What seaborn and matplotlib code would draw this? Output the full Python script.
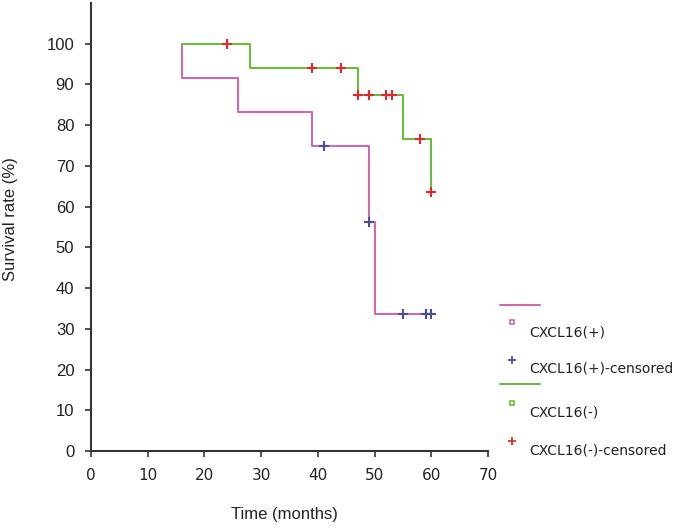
import matplotlib
matplotlib.use("Agg")
import matplotlib.pyplot as plt
from matplotlib.lines import Line2D
import seaborn as sns

# Kaplan-Meier curves
pos_t = [16, 16, 26, 39, 49, 50, 60]
pos_s = [100, 91.7, 83.3, 75, 56.25, 33.75, 33.75]
pos_cens_t = [41, 49, 55, 59, 60]
pos_cens_s = [75, 56.25, 33.75, 33.75, 33.75]

neg_t = [16, 28, 47, 55, 60]
neg_s = [100, 94.1, 87.4, 76.5, 63.7]
neg_cens_t = [24, 39, 44, 47, 49, 52, 53, 58, 60]
neg_cens_s = [100, 94.1, 94.1, 87.4, 87.4, 87.4, 87.4, 76.5, 63.7]

x_ticks = list(range(0, 71, 10))
y_ticks = list(range(0, 101, 10))
labels = ["CXCL16(+)", "CXCL16(+)-censored", "CXCL16(-)", "CXCL16(-)-censored"]

pink = "#cc6aac"
green = "#6cbb3c"
blue = "#4a4c9c"
red = "#e02a2a"

sns.set_style("white")
plt.rcParams["font.family"] = ["DejaVu Sans"]

fig = plt.figure(figsize=(6.79, 5.29), dpi=100)
ax = fig.add_axes([0.134, 0.1474, 0.5847, 0.847])

sns.lineplot(x=pos_t, y=pos_s, drawstyle="steps-post", color=pink, lw=1.5,
             estimator=None, sort=False, ax=ax)
sns.lineplot(x=neg_t, y=neg_s, drawstyle="steps-post", color=green, lw=1.5,
             estimator=None, sort=False, ax=ax)
sns.scatterplot(x=pos_cens_t, y=pos_cens_s, marker="+", s=45, linewidth=1.5,
                color=blue, ax=ax, zorder=5)
sns.scatterplot(x=neg_cens_t, y=neg_cens_s, marker="+", s=45, linewidth=1.5,
                color=red, ax=ax, zorder=5)

ax.set_xlim(0, 70)
ax.set_ylim(0, 110)
ax.set_xticks(x_ticks)
ax.set_yticks(y_ticks)
ax.set_xticklabels([str(v) for v in x_ticks], fontsize=11, color="#222222")
ax.set_yticklabels([str(v) for v in y_ticks], fontsize=12, color="#222222",
                   family="Liberation Sans")
for s in ["top", "right"]:
    ax.spines[s].set_visible(False)
for s in ["left", "bottom"]:
    ax.spines[s].set_color("#333333")
    ax.spines[s].set_linewidth(1.5)
ax.tick_params(axis="both", direction="out", length=4, width=1.2,
               color="#333333", left=True, bottom=True)
ax.tick_params(axis="x", pad=8)
ax.tick_params(axis="y", pad=8)

fig.text(284 / 679, 1 - 515 / 529, "Time (months)", ha="center", va="center",
         fontsize=12, color="#222222", family="Liberation Sans")
fig.text(11 / 679, 1 - 219 / 529, "Survival rate (%)", ha="center", va="center",
         rotation=90, fontsize=12, color="#222222", family="Liberation Sans")

# legend drawn by hand on the right
W, H = 679, 529


def fx(px):
    return px / W


def fy(py):
    return 1 - py / H


fig.add_artist(Line2D([fx(500), fx(540)], [fy(305), fy(305)], color=pink, lw=1.5))
fig.add_artist(Line2D([fx(500), fx(540)], [fy(384), fy(384)], color=green, lw=1.5))
legend_rows = [
    (322, 332, "s", pink, labels[0]),
    (360, 368, "+", blue, labels[1]),
    (403, 412, "s", green, labels[2]),
    (441, 450, "+", red, labels[3]),
]
for my, ty, mk, col, lab in legend_rows:
    if mk == "s":
        fig.add_artist(Line2D([fx(512)], [fy(my)], marker="s", markersize=3.5,
                              markerfacecolor="white", markeredgecolor=col,
                              markeredgewidth=1.2, lw=0))
    else:
        fig.add_artist(Line2D([fx(512)], [fy(my)], marker="+", markersize=6,
                              markeredgecolor=col, markeredgewidth=1.3, lw=0))
    fig.text(fx(529), fy(ty), lab, ha="left", va="center", fontsize=10,
             color="#222222")

fig.savefig("out.png", dpi=100)
